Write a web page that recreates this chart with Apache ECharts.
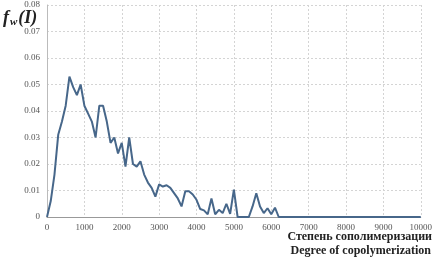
<!DOCTYPE html>
<html>
<head>
<meta charset="utf-8">
<script src="https://cdn.jsdelivr.net/npm/echarts@6/dist/echarts.min.js"></script>
<style>html,body{margin:0;padding:0;background:#fff}#c{width:435px;height:259px}</style>
</head>
<body>
<div id="c"></div>
<script>
const degree = [0,100,200,300,400,500,600,700,800,900,1000,1100,1200,1300,1400,1500,1600,1700,1800,1900,2000,2100,2200,2300,2400,2500,2600,2700,2800,2900,3000,3100,3200,3300,3400,3500,3600,3700,3800,3900,4000,4100,4200,4300,4400,4500,4600,4700,4800,4900,5000,5100,5200,5300,5400,5500,5600,5700,5800,5900,6000,6100,6200,10000];
const fw = [0,0.006,0.016,0.031,0.036,0.042,0.053,0.049,0.046,0.050,0.042,0.039,0.036,0.030,0.042,0.042,0.036,0.028,0.030,0.024,0.028,0.019,0.030,0.020,0.019,0.021,0.016,0.013,0.011,0.0077,0.0123,0.0115,0.012,0.011,0.009,0.007,0.004,0.0097,0.0097,0.0085,0.0065,0.003,0.0025,0.001,0.007,0.001,0.0027,0.0015,0.005,0.0012,0.0103,0,0,0,0,0.004,0.009,0.004,0.0015,0.0033,0.001,0.0035,0,0];
const xTicks = [0,1000,2000,3000,4000,5000,6000,7000,8000,9000,10000];
const yTicks = [0,0.01,0.02,0.03,0.04,0.05,0.06,0.07,0.08];
const xNameRu = 'Степень сополимеризации';
const xNameEn = 'Degree of copolymerization';

const chart = echarts.init(document.getElementById('c'));
const serif = 'Liberation Serif';
chart.setOption({
  animation:false,
  grid:{left:47,right:13,top:5,bottom:42},
  xAxis:{type:'value',min:xTicks[0],max:xTicks[xTicks.length-1],interval:1000,
    axisLine:{lineStyle:{color:'#999'}},axisTick:{show:false},
    axisLabel:{color:'#555',fontFamily:serif,fontSize:9,margin:6,formatter:v=>String(v)},
    splitLine:{show:true,lineStyle:{color:'#d4d4d4',type:[2,2]}}},
  yAxis:{type:'value',min:yTicks[0],max:yTicks[yTicks.length-1],interval:0.01,
    axisLine:{show:true,lineStyle:{color:'#bbb'}},axisTick:{show:false},
    axisLabel:{color:'#555',fontFamily:serif,fontSize:9,margin:7,formatter:v=>v===0?'0':v.toFixed(2)},
    splitLine:{show:true,lineStyle:{color:'#d4d4d4',type:[2,2]}}},
  series:[{type:'line',data:degree.map((d,i)=>[d,fw[i]]),symbol:'none',
    lineStyle:{color:'#47678a',width:2},itemStyle:{color:'#47678a'}}],
  graphic:[
    {type:'text',left:3,top:9,style:{
      text:'{f|f}{s|w}{p|(I)}',
      rich:{
        f:{fontFamily:serif,fontStyle:'italic',fontWeight:'bold',fontSize:18,fill:'#222'},
        s:{fontFamily:serif,fontStyle:'italic',fontWeight:'bold',fontSize:11,fill:'#222',verticalAlign:'bottom',padding:[9,1,0,1]},
        p:{fontFamily:serif,fontStyle:'italic',fontWeight:'bold',fontSize:18,fill:'#222'}
      }}},
    {type:'text',x:432,y:231,style:{text:xNameRu,textAlign:'right',fontFamily:serif,fontWeight:'bold',fontSize:12,fill:'#222'}},
    {type:'text',x:431,y:245,style:{text:xNameEn,textAlign:'right',fontFamily:serif,fontWeight:'bold',fontSize:12,fill:'#222'}}
  ]
});
</script>
</body>
</html>
